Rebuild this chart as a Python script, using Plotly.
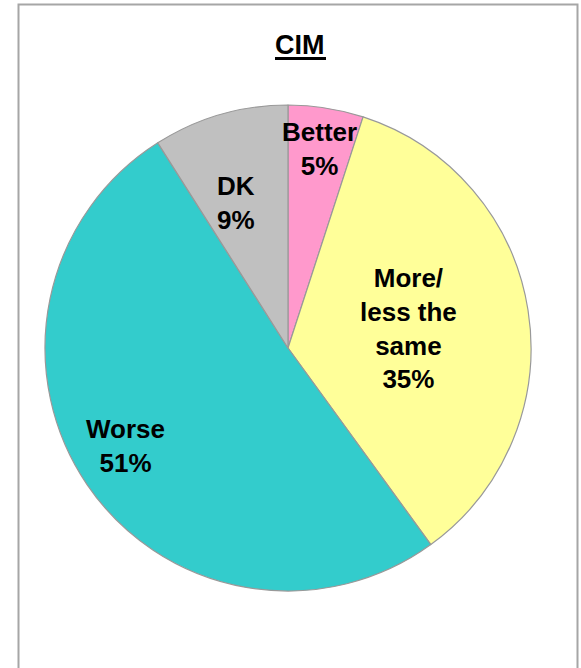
import math
import plotly.graph_objects as go

labels = ["Better", "More/<br>less the<br>same", "Worse", "DK"]
values = [5, 35, 51, 9]
colors = ["#FF99CC", "#FFFF99", "#33CCCC", "#C0C0C0"]
title_text = "CIM"

W, H = 581, 668
cx, cy, R = 288, 348, 243  # pie centre / radius in px

fig = go.Figure(go.Pie(
    labels=labels,
    values=values,
    sort=False,
    direction="clockwise",
    rotation=0,
    textinfo="none",
    hoverinfo="label+percent",
    marker=dict(colors=colors, line=dict(color="#999999", width=1.2)),
    domain=dict(x=[(cx - R) / W, (cx + R) / W],
                y=[(H - cy - R) / H, (H - cy + R) / H]),
    showlegend=False,
))

# label placement along (roughly) the mid-angle of each slice
radial_frac = [0.83, 0.50, 0.78, 0.635]
angle_nudge = [0.0, 0.0, 3.0, -3.5]  # degrees
total = sum(values)
cum = 0
annotations = []
for lab, v, f, nd in zip(labels, values, radial_frac, angle_nudge):
    mid = (cum + v / 2) / total * 2 * math.pi + math.radians(nd)
    cum += v
    x = cx + R * f * math.sin(mid)
    y = cy - R * f * math.cos(mid)
    pct = round(v / total * 100)
    annotations.append(dict(
        x=x / W, y=1 - y / H, xref="paper", yref="paper",
        text=f"<b>{lab}<br>{pct}%</b>", showarrow=False,
        xanchor="center", yanchor="middle", align="center",
        font=dict(family="Arial, Liberation Sans, sans-serif", size=26, color="#000000"),
    ))

annotations.append(dict(
    x=300 / W, y=1 - 45 / H, xref="paper", yref="paper",
    text=f"<b>{title_text}</b>", showarrow=False,
    xanchor="center", yanchor="middle",
    font=dict(family="Arial, Liberation Sans, sans-serif", size=27, color="#000000"),
))

shapes = [
    dict(type="rect", xref="paper", yref="paper",
         x0=18.5 / W, x1=577.5 / W, y0=-0.02, y1=1 - 4.5 / H,
         line=dict(color="#A6A6A6", width=2), fillcolor="rgba(0,0,0,0)"),
    dict(type="line", xref="paper", yref="paper",
         x0=275 / W, x1=326 / W, y0=1 - 58.5 / H, y1=1 - 58.5 / H,
         line=dict(color="#000000", width=3)),
]

fig.update_layout(
    width=W, height=H,
    margin=dict(l=0, r=0, t=0, b=0),
    paper_bgcolor="#FFFFFF",
    plot_bgcolor="#FFFFFF",
    annotations=annotations,
    shapes=shapes,
)

fig.write_html(
    "out.html",
    config={"displayModeBar": False},
    post_script="document.body.style.margin='0';document.body.style.overflow='hidden';",
)
